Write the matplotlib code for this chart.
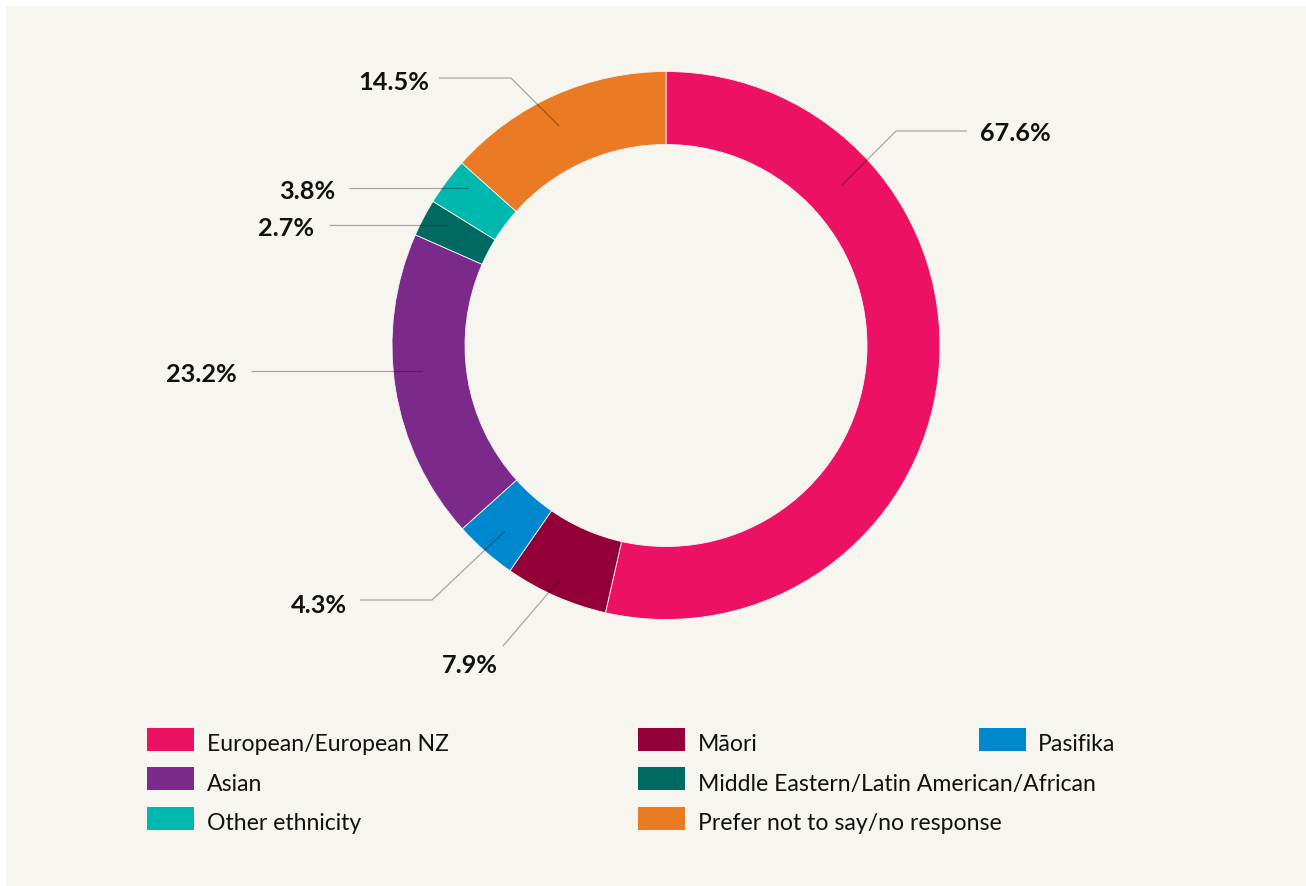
import matplotlib.pyplot as plt
from matplotlib.patches import Rectangle

# ------------------------------------------------------------------ data
# wedges listed clockwise from 12 o'clock
categories = [
    "European/European NZ",
    "Māori",
    "Pasifika",
    "Asian",
    "Middle Eastern/Latin American/African",
    "Other ethnicity",
    "Prefer not to say/no response",
]
# share of the ring (% of the circle) as drawn in the picture
ring_share = [53.6, 6.1, 3.7, 18.3, 2.2, 2.8, 13.4]
# percentages printed next to each wedge
pct_labels = ["67.6%", "7.9%", "4.3%", "23.2%", "2.7%", "3.8%", "14.5%"]
colors = ["#ED1164", "#930037", "#0088CF", "#7B2A8B", "#006A62", "#00B8AE", "#EB7A25"]

# ------------------------------------------------------------------ layout (pixel space, y down)
W, H = 1306, 887
BG = "#F6F5F0"
FONT = ["Lato", "DejaVu Sans"]
CX, CY, R, RING = 666, 346.5, 274, 73

# leader polyline (anchor in ring -> elbow -> end) and label baseline position
leaders = [
    [(842, 186), (896, 132), (967, 132)],
    [(562, 578), (503, 647)],
    [(505, 532), (432, 601), (360, 601)],
    [(422, 372), (251, 372)],
    [(448, 226), (329, 226)],
    [(468, 189), (349, 189)],
    [(559, 127), (511, 79), (439, 79)],
]
label_pos = [
    (980, 141, "left"),
    (470, 673, "center"),
    (347, 613, "right"),
    (237, 382, "right"),
    (314, 236, "right"),
    (335, 199, "right"),
    (429, 90, "right"),
]
# legend grid: (patch left x, patch top y, text x, text baseline y)
legend_pos = [
    (147, 729, 207, 751),
    (638, 729, 698, 751),
    (979, 729, 1038, 751),
    (147, 768, 207, 791),
    (638, 768, 698, 791),
    (147, 808, 207, 830),
    (638, 808, 698, 830),
]


def py(y):
    return H - y


fig = plt.figure(figsize=(W / 100, H / 100), dpi=100, facecolor="white")
ax = fig.add_axes([0, 0, 1, 1])

ax.pie(
    ring_share,
    colors=colors,
    startangle=90,
    counterclock=False,
    center=(CX, py(CY)),
    radius=R,
    wedgeprops=dict(width=RING, edgecolor=BG, linewidth=0.6),
)
ax.add_patch(Rectangle((6, 0), W - 6, H - 7, facecolor=BG, edgecolor="none", zorder=0))
ax.set_xlim(0, W)
ax.set_ylim(0, H)
ax.set_aspect("equal")
ax.axis("off")

for pts, (tx, ty, ha), lab in zip(leaders, label_pos, pct_labels):
    xs = [p[0] for p in pts]
    ys = [py(p[1]) for p in pts]
    ax.plot(xs, ys, color="black", alpha=0.32, lw=0.9, zorder=5, solid_capstyle="butt")
    ax.text(tx, py(ty), lab, ha=ha, va="baseline", fontsize=18.2,
            fontweight="bold", family=FONT, color="#111111", zorder=6)

for name, col, (bx, by, tx, ty) in zip(categories, colors, legend_pos):
    ax.add_patch(Rectangle((bx, py(by + 23)), 47, 23, facecolor=col, edgecolor="none", zorder=4))
    ax.text(tx, py(ty), name, ha="left", va="baseline", fontsize=16.6,
            family=FONT, color="#111111", zorder=6)

fig.savefig("out.png", dpi=100, facecolor=fig.get_facecolor())
